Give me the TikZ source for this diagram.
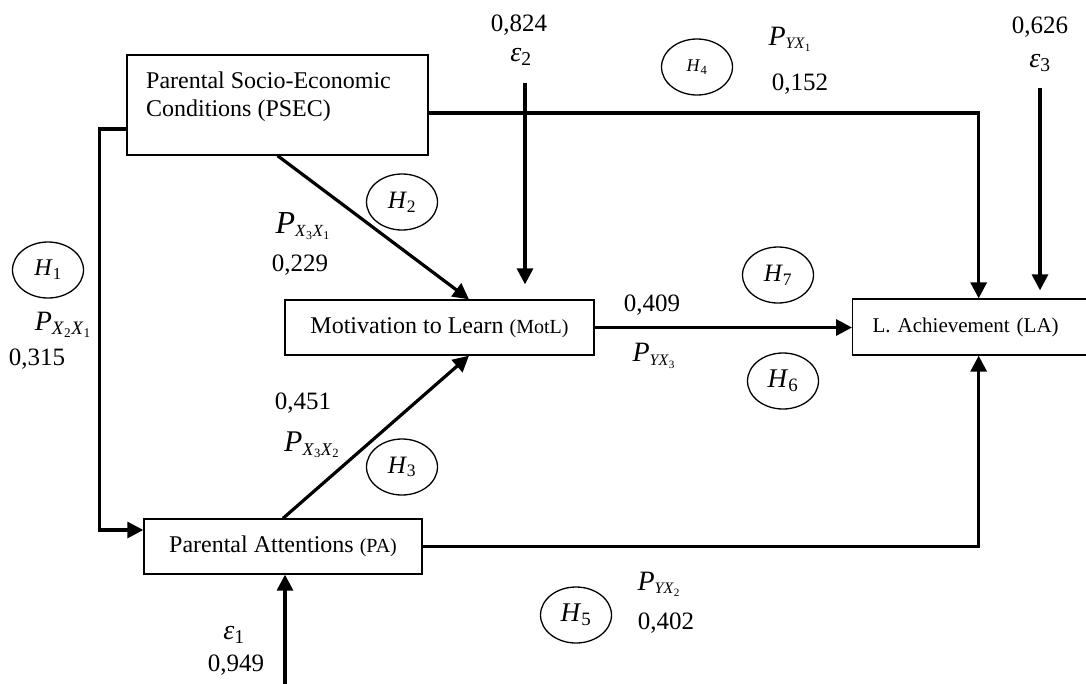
\documentclass[tikz,border=0pt]{standalone}
\usepackage{fontspec}
\setmainfont{Liberation Serif}
\usetikzlibrary{shapes.geometric,arrows.meta}
\usetikzlibrary{positioning}
\newcommand{\abk}[1]{{\fontsize{20}{24}\selectfont #1}}
\tikzset{
box/.style = {rectangle,draw=black,line width=1.3pt,font=\fontsize{24}{29}\selectfont},
hyp/.style = {ellipse,draw=black,line width=1.3pt,minimum width=71pt,minimum height=56pt,inner sep=0pt,font=\fontsize{25}{30}\selectfont},
num/.style = {inner sep=0pt,font=\fontsize{25}{30}\selectfont},
coef/.style = {inner sep=0pt,font=\fontsize{30}{36}\selectfont},
eps/.style = {inner sep=0pt,font=\fontsize{28}{34}\selectfont},
arr/.style = {line width=3.2pt,-{Triangle[length=16pt,width=16pt]}}
}

\begin{document}
\begin{tikzpicture}[x=1pt,y=-1pt]
\useasboundingbox (0,0) rectangle (1086,683);
\node[box,minimum width=301pt,minimum height=100pt] (PSEC) at (277.5,105) {};
\node[anchor=north west,align=left,inner sep=0pt,font=\fontsize{24}{28}\selectfont] (PSECt) at (146,71.5) {Parental Socio-Economic\\Conditions (PSEC)};
\node[box,minimum width=309pt,minimum height=55pt] (MotL) at (439.5,327.5) {Motivation to Learn \abk{(MotL)}};
\node[box,minimum width=278pt,minimum height=55pt] (PA) at (283,546.5) {Parental Attentions \abk{(PA)}};
\node[box,anchor=west,text width=212pt,inner xsep=20pt,align=left,minimum height=56pt,font=\fontsize{21}{25}\selectfont] (LA) at (852,327) {L. Achievement (LA)};
\coordinate (e1) at (285,690);
\coordinate (e2) at (525,83);
\coordinate (e3) at (1040,88);
\draw[arr] (PSEC.south) -- ([xshift=29.5pt]MotL.north);
\draw[arr] (PA.north) -- ([xshift=29.5pt]MotL.south);
\draw[arr] (MotL.east) -- (MotL.east -| LA.west);
\draw[arr] ([yshift=-8pt]PSEC.east) -| (LA.north);
\draw[arr] (PA.east) -| (LA.south);
\draw[arr] ([yshift=-24pt]PSEC.west) -- ++(-27,0) |- ([yshift=16.5pt]PA.west);
\draw[arr] (e1) -- (e1 |- PA.south);
\draw[arr,shorten >=15pt] (e2) -- (e2 |- MotL.north);
\draw[arr,shorten >=8pt] (e3) -- (e3 |- LA.north);
% hypotheses
\node[hyp,font=\fontsize{24}{28}\selectfont] (H1) at (48,270) {\textit{H}\textsubscript{1}};
\node[hyp] (H2) at (402,202) {\textit{H}\textsubscript{2}};
\node[hyp] (H3) at (402,467) {\textit{H}\textsubscript{3}};
\node[hyp,font=\fontsize{18}{22}\selectfont] (H4) at (697,67) {\textit{H}\textsubscript{4}};
\node[hyp,font=\fontsize{27}{30}\selectfont] (H5) at (576,615) {\textit{H}\textsubscript{5}};
\node[hyp,font=\fontsize{27}{30}\selectfont] (H6) at (783,381) {\textit{H}\textsubscript{6}};
\node[hyp] (H7) at (778,275) {\textit{H}\textsubscript{7}};
% path coefficients
\node[coef,font=\fontsize{28}{32}\selectfont] (P21) at (63,325) {\textit{P}\textsubscript{\fontsize{19}{22}\selectfont\textit{X}\textsubscript{2}\textit{X}\textsubscript{1}}};
\node[num] (n315) at (37,359) {0,315};
\node[coef,font=\fontsize{32}{36}\selectfont] (P31) at (303,226) {\textit{P}\textsubscript{\fontsize{17}{20}\selectfont\textit{X}\textsubscript{3}\textit{X}\textsubscript{1}}};
\node[num] (n229) at (300,265) {0,229};
\node[num] (n451) at (303,403) {0,451};
\node[coef] (P32) at (312,445) {\textit{P}\textsubscript{\fontsize{18}{21}\selectfont\textit{X}\textsubscript{3}\textit{X}\textsubscript{2}}};
\node[coef,font=\fontsize{28}{32}\selectfont] (PY1) at (790,39) {\textit{P}\textsubscript{\fontsize{16}{18}\selectfont\textit{YX}\textsubscript{1}}};
\node[num] (n152) at (800,84) {0,152};
\node[num] (n409) at (652,305) {0,409};
\node[coef,font=\fontsize{28}{32}\selectfont] (PY3) at (654,356) {\textit{P}\textsubscript{\fontsize{16}{18}\selectfont\textit{YX}\textsubscript{3}}};
\node[coef,font=\fontsize{28}{32}\selectfont] (PY2) at (659,584) {\textit{P}\textsubscript{\fontsize{16}{18}\selectfont\textit{YX}\textsubscript{2}}};
\node[num] (n402) at (666,623) {0,402};
% errors
\node[num] (n824) at (519,25) {0,824};
\node[eps] (E2) at (521,57) {\textit{ε}\textsubscript{2}};
\node[num] (n626) at (1040,27) {0,626};
\node[eps] (E3) at (1040,63) {\textit{ε}\textsubscript{3}};
\node[eps] (E1) at (234,635) {\textit{ε}\textsubscript{1}};
\node[num] (n949) at (236,665) {0,949};
\end{tikzpicture}
\end{document}
